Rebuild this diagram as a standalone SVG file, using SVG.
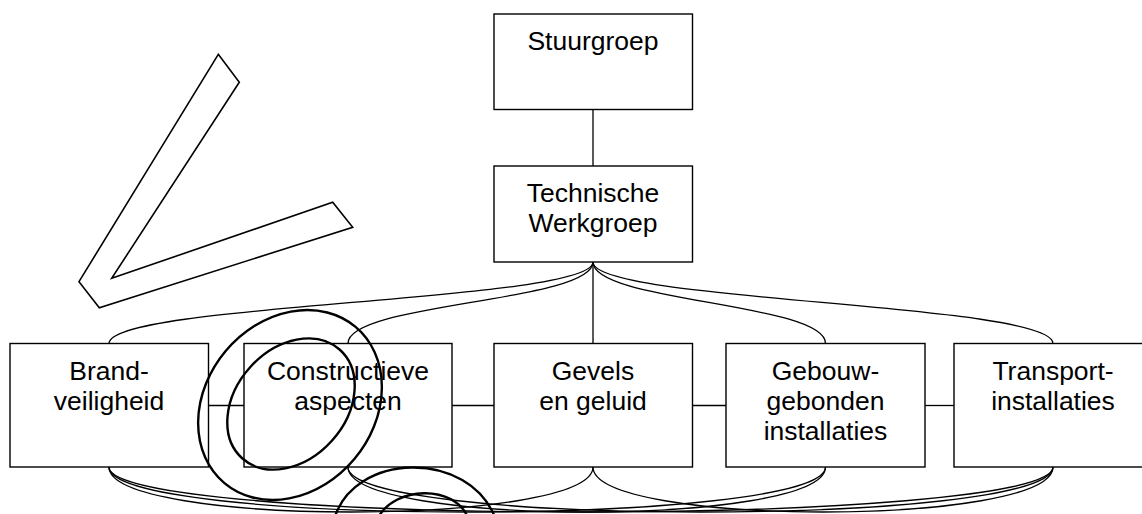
<svg xmlns="http://www.w3.org/2000/svg" width="1142" height="514" viewBox="0 0 1142 514">
<style>
.box{fill:#fff;stroke:#000;stroke-width:1.4}
.con{fill:none;stroke:#000;stroke-width:1.3}
.ink{fill:none;stroke:#000;stroke-width:2.4}
.shape{fill:#fff;stroke:#000;stroke-width:1.6;stroke-linejoin:miter}
text{font-family:"Liberation Sans",Arial,sans-serif;font-size:26.5px;fill:#000;text-anchor:middle}
</style>
<rect width="1142" height="514" fill="#fff"/>
<g id="connectors">
<line class="con" x1="593" y1="109.5" x2="593" y2="166"/>
<line class="con" x1="593" y1="262" x2="593" y2="343.5"/>
<path class="con" d="M593,262 C593,302 109,303 109,343.5"/>
<path class="con" d="M593,262 C593,302 348,303 348,343.5"/>
<path class="con" d="M593,262 C593,302 825.5,303 825.5,343.5"/>
<path class="con" d="M593,262 C593,302 1053,303 1053,343.5"/>
<line class="con" x1="208.5" y1="405.5" x2="244" y2="405.5"/>
<line class="con" x1="452" y1="405.5" x2="494" y2="405.5"/>
<line class="con" x1="692.5" y1="405.5" x2="726" y2="405.5"/>
<line class="con" x1="925" y1="405.5" x2="954" y2="405.5"/>
<path class="con" d="M109,467 C109,527 593,527 593,467"/>
<path class="con" d="M109,467 C109,527 825.5,527 825.5,467"/>
<path class="con" d="M109,467 C109,527 1053,527 1053,467"/>
<path class="con" d="M348,467 C348,527 825.5,527 825.5,467"/>
<path class="con" d="M348,467 C348,527 1053,527 1053,467"/>
<path class="con" d="M593,467 C593,527 1053,527 1053,467"/>
</g>
<g id="stuurgroep">
<rect class="box" x="494" y="14" width="198.5" height="95.5"/>
<text x="593" y="50">Stuurgroep</text>
</g>
<g id="technische-werkgroep">
<rect class="box" x="494" y="166" width="198.5" height="96"/>
<text x="593" y="202">Technische</text>
<text x="593" y="232">Werkgroep</text>
</g>
<g id="brandveiligheid">
<rect class="box" x="10" y="343.5" width="198.5" height="123.5"/>
<text x="109" y="380">Brand-</text>
<text x="109" y="410">veiligheid</text>
</g>
<g id="constructieve-aspecten">
<rect class="box" x="244" y="343.5" width="208" height="123.5"/>
<text x="348" y="380">Constructieve</text>
<text x="348" y="410">aspecten</text>
</g>
<g id="gevels-en-geluid">
<rect class="box" x="494" y="343.5" width="198.5" height="123.5"/>
<text x="593" y="380">Gevels</text>
<text x="593" y="410">en geluid</text>
</g>
<g id="gebouwgebonden-installaties">
<rect class="box" x="726" y="343.5" width="199" height="123.5"/>
<text x="825.5" y="380">Gebouw-</text>
<text x="825.5" y="410">gebonden</text>
<text x="825.5" y="440">installaties</text>
</g>
<g id="transportinstallaties">
<rect class="box" x="954" y="343.5" width="198.5" height="123.5"/>
<text x="1053" y="380">Transport-</text>
<text x="1053" y="410">installaties</text>
</g>
<g id="annotations">
<polygon class="shape" points="218.3,54.3 239.3,82.3 111.7,278.3 332.7,202.3 352.7,227.3 99.3,307.7 79,281.7"/>
<ellipse class="ink" cx="290" cy="405" rx="102" ry="84" transform="rotate(-50 290 405)"/>
<ellipse class="ink" cx="291" cy="404" rx="73" ry="55" transform="rotate(-48 291 404)"/>
<path class="ink" d="M334,520 C352,452 470,448 496,520"/>
<path class="ink" d="M378,518 C394,486 455,484 468,518"/>
</g>
</svg>
